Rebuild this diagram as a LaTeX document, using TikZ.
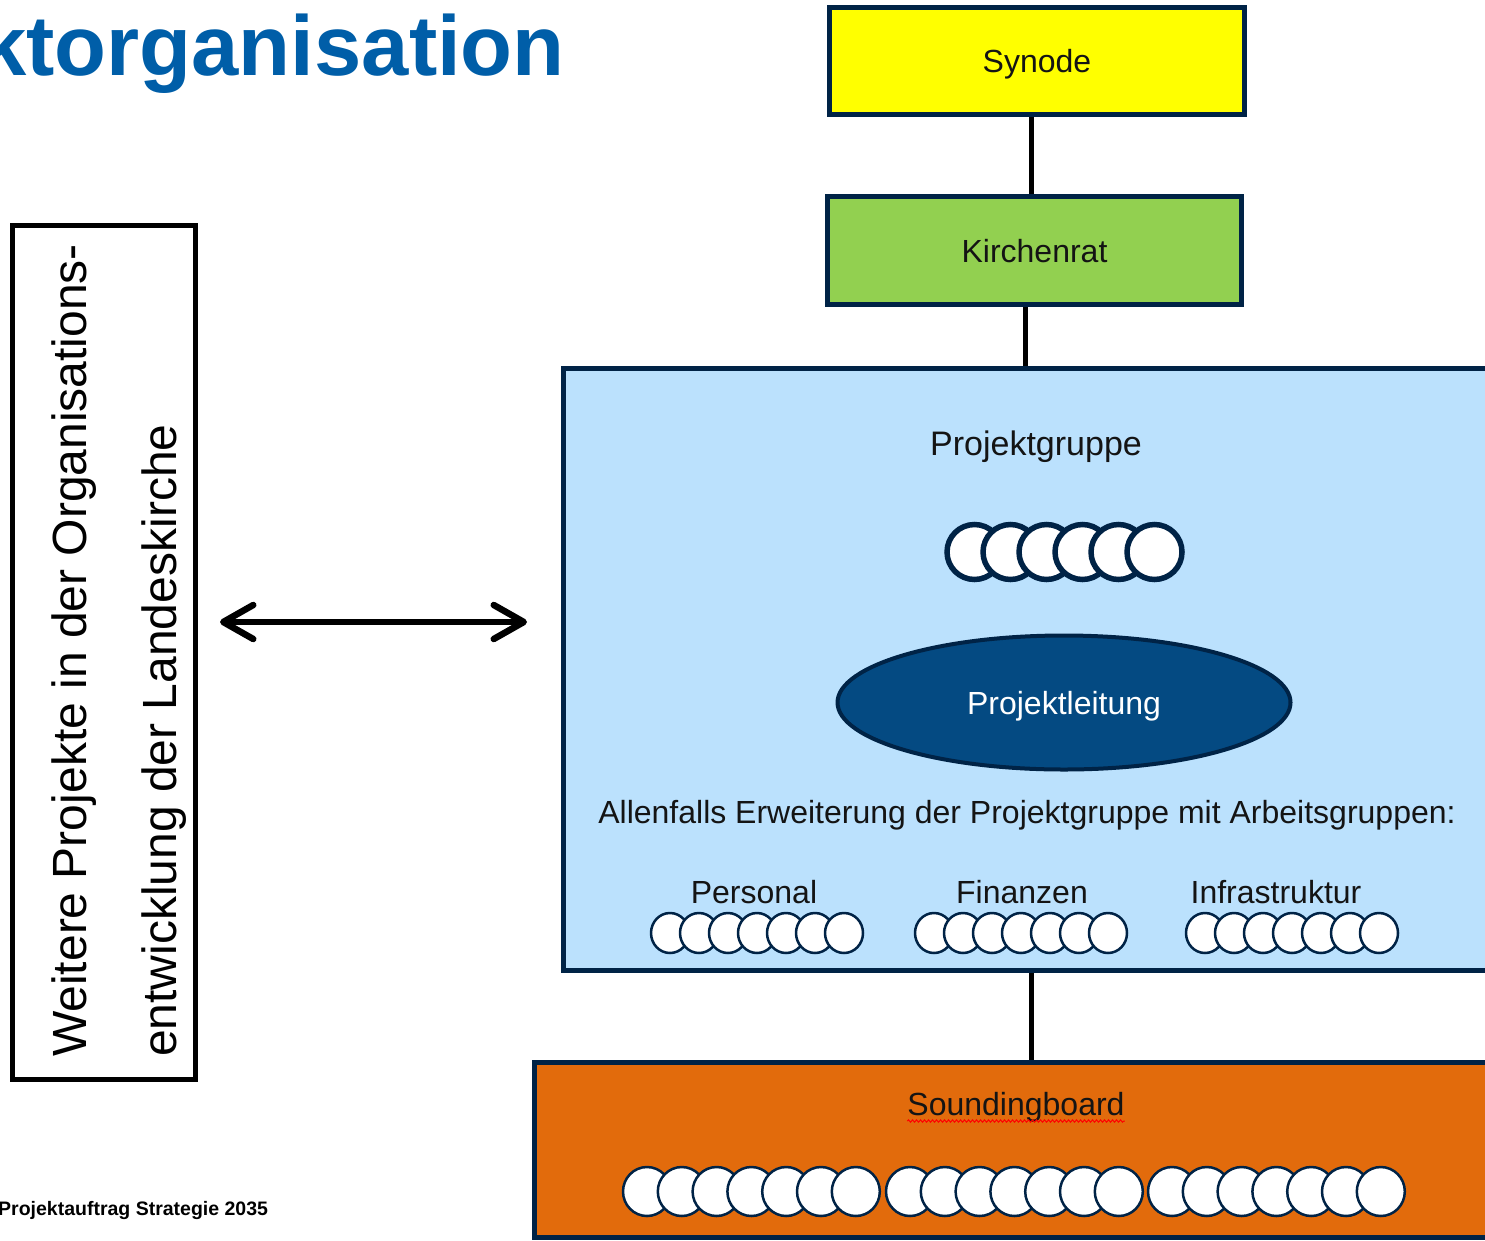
\documentclass[tikz,border=0pt]{standalone}
\usepackage{fontspec}
\setmainfont{Liberation Sans}
\usetikzlibrary{shapes.geometric,arrows.meta,decorations.pathmorphing}
\definecolor{navy}{RGB}{0,35,70}
\definecolor{titleblue}{RGB}{0,94,168}
\definecolor{synyellow}{RGB}{255,255,0}
\definecolor{krgreen}{RGB}{146,208,80}
\definecolor{lightb}{RGB}{187,225,253}
\definecolor{plfill}{RGB}{4,74,130}
\definecolor{orangef}{RGB}{226,107,12}
\definecolor{txt}{RGB}{20,20,20}
\newcommand\setfs[1]{\fontsize{#1}{#1}\selectfont}
\begin{document}
\begin{tikzpicture}[x=1pt,y=-1pt,
  box/.style={draw=navy, line width=5pt, inner sep=0pt, text height=23pt, text depth=0pt, font=\setfs{32}, text=txt},
  conn/.style={line width=5pt, black},
  bigc/.style={draw=navy, fill=white, line width=5.5pt},
  smallc/.style={draw=navy, fill=white, line width=2.5pt},
  lbl/.style={font=\setfs{32}, anchor=base, inner sep=0pt, text=txt},
  dbl/.style={line width=6.5pt, black, {Straight Barb[length=30pt,width=34pt,round]}-{Straight Barb[length=30pt,width=34pt,round]}},
]
\useasboundingbox (0,0) rectangle (1485,1240);

% title and footer
\node[anchor=base east, inner sep=0pt, font=\setfs{85}\bfseries, text=titleblue] (title) at (565,75) {ktorganisation};
\node[anchor=base west, inner sep=0pt, font=\setfs{19.5}\bfseries, text=black] (foot) at (-2,1215) {Projektauftrag Strategie 2035};

% boxes
\node[box, fill=synyellow, minimum width=415pt, minimum height=107pt] (syn) at (1037,61) {Synode};
\node[box, fill=krgreen, minimum width=414pt, minimum height=108pt] (kr) at (1034.5,250.5) {Kirchenrat};
\node[box, fill=lightb, minimum width=957pt, minimum height=602pt] (pg) at (1041.5,669) {};
\node[box, fill=orangef, minimum width=986pt, minimum height=175pt] (sb) at (1027,1149.5) {};

% connectors
\draw[conn] ([xshift=-6pt]syn.south) -- ([xshift=-6pt]syn.south |- kr.north);
\draw[conn] ([xshift=-9.5pt]kr.south) -- ([xshift=-9.5pt]kr.south |- pg.north);
\draw[conn] ([xshift=-10.5pt]pg.south) -- ([xshift=-10.5pt]pg.south |- sb.north);

% inside project group
\node[lbl, font=\setfs{34}] (pgt) at (1036,455) {Projektgruppe};
\foreach \i in {0,...,5} \draw[bigc] (974.5+36*\i,552) circle[radius=27.5pt];
\node[ellipse, draw=navy, line width=4pt, fill=plfill, minimum width=453pt, minimum height=134pt, inner sep=0pt,
      text=white, font=\setfs{32}, text height=23pt, text depth=0pt] (pl) at (1064,702.5) {Projektleitung};
\node[lbl] (erw) at (1027,823) {Allenfalls Erweiterung der Projektgruppe mit Arbeitsgruppen:};
\node[lbl] (pers) at (754,903) {Personal};
\node[lbl] (fin) at (1022,903) {Finanzen};
\node[lbl] (inf) at (1276,903) {Infrastruktur};
\foreach \s in {670,934,1205}
  \foreach \i in {0,...,6} \draw[smallc] (\s+29*\i,933) ellipse[x radius=19pt, y radius=20pt];

% soundingboard
\node[lbl] (sbt) at (1016,1115) {Soundingboard};
\draw[red, line width=1pt, decorate, decoration={snake, amplitude=1.2pt, segment length=4pt}]
  ([yshift=-6pt]sbt.base west) -- ([yshift=-6pt]sbt.base east);
\foreach \s in {647,910,1172}
  \foreach \i in {0,...,6} \draw[smallc] (\s+34.8*\i,1191.5) ellipse[x radius=24pt, y radius=24.5pt];

% left box
\node[draw=black, line width=5pt, fill=white, minimum width=183pt, minimum height=854pt, inner sep=0pt] (lb) at (104,652.5) {};
\node[rotate=90, anchor=base west, inner sep=0pt, font=\setfs{48}, text=black] (l1) at (86,1057) {Weitere Projekte in der Organisations-};
\node[rotate=90, anchor=base west, inner sep=0pt, font=\setfs{48}, text=black] (l2) at (176,1057) {entwicklung der Landeskirche};

% double arrow
\coordinate (aL) at (220,622);
\coordinate (aR) at (527,622);
\draw[dbl] (aL) -- (aR);
\end{tikzpicture}
\end{document}
